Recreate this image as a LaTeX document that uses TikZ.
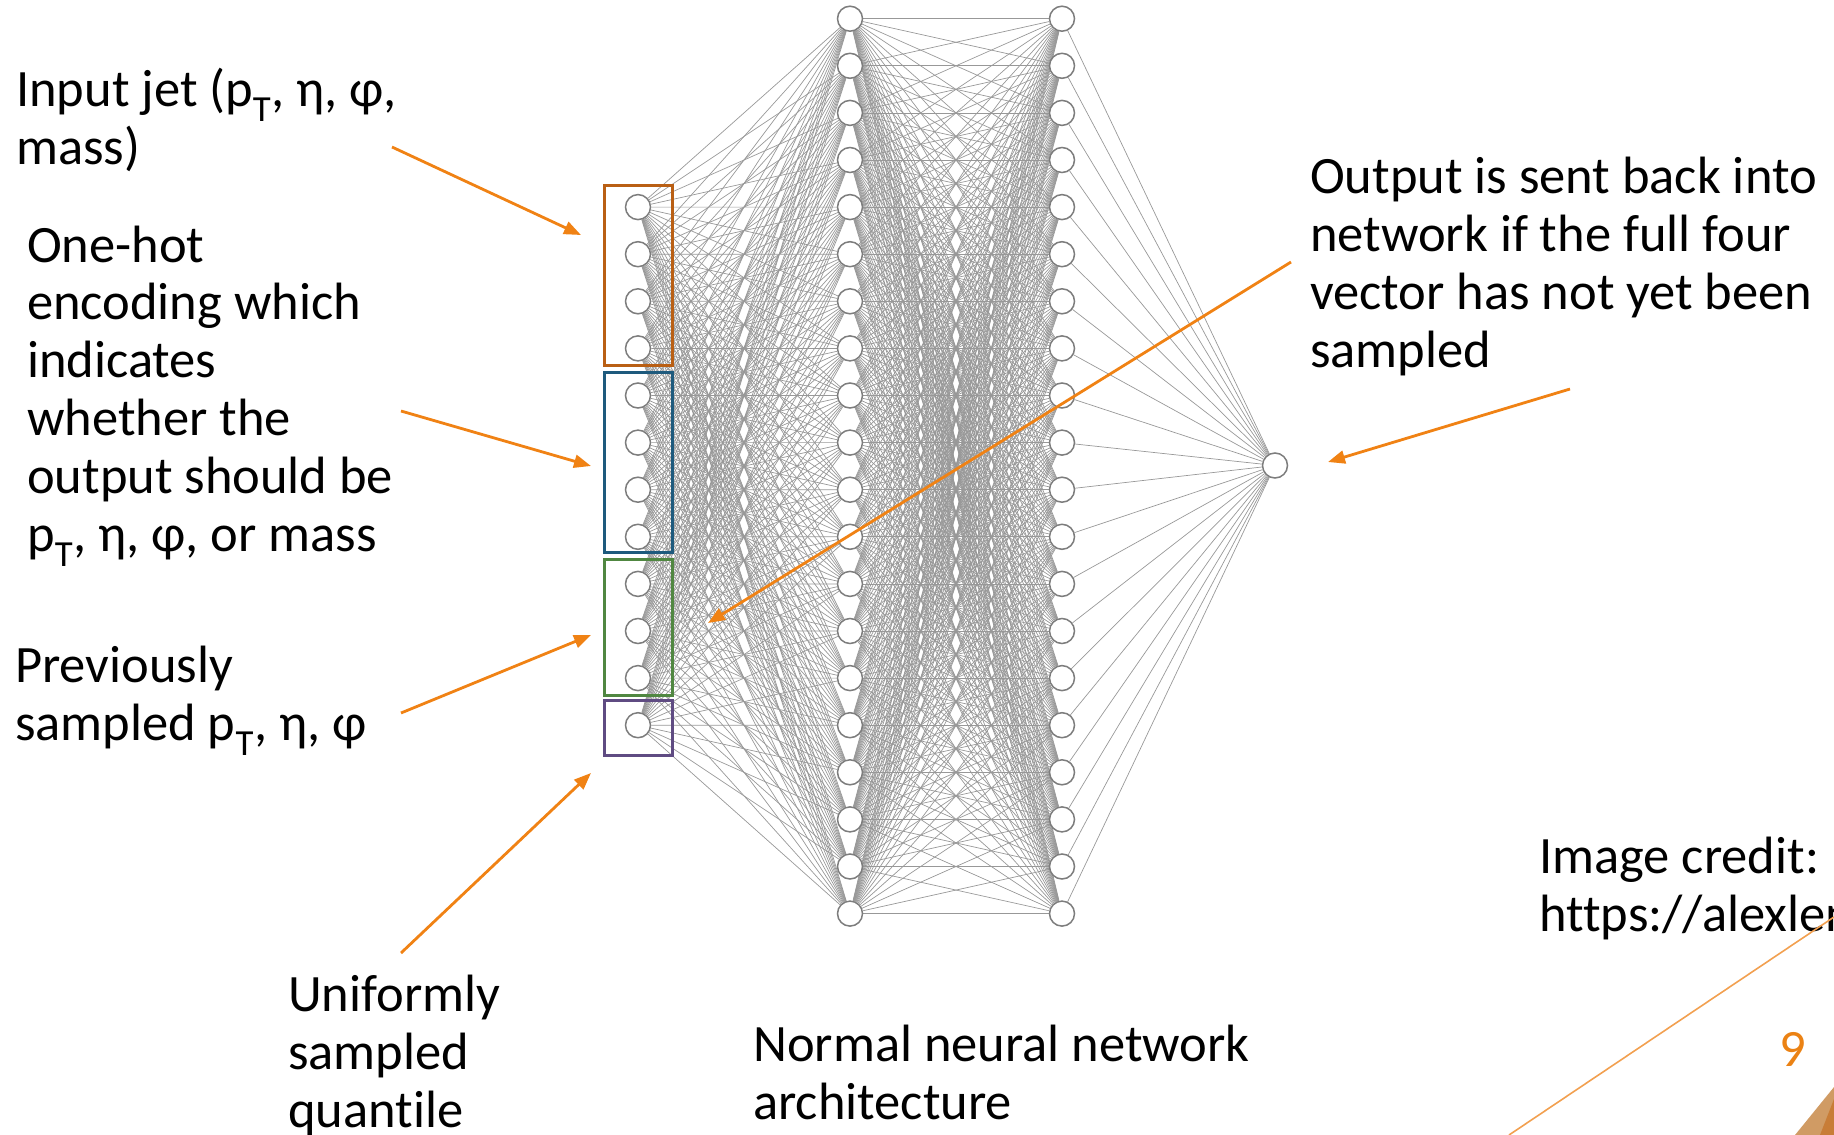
\documentclass[tikz,border=0pt]{standalone}
\usepackage{fontspec}
\setmainfont[Ligatures=NoCommon]{Carlito}
\usetikzlibrary{arrows.meta, positioning}
\pgfdeclarelayer{background}
\pgfsetlayers{background,main}
\definecolor{pointcol}{RGB}{240,130,20}
\definecolor{jetcol}{RGB}{185,95,20}
\definecolor{hotcol}{RGB}{30,90,125}
\definecolor{prevcol}{RGB}{80,135,65}
\definecolor{quantcol}{RGB}{95,75,130}
\definecolor{edgecol}{RGB}{152,152,152}
\definecolor{ringcol}{RGB}{125,125,125}
\definecolor{decocol}{RGB}{242,160,80}
\definecolor{tancol}{RGB}{208,155,100}
\definecolor{rustcol}{RGB}{200,125,55}
\definecolor{pagecol}{RGB}{235,130,20}
\tikzstyle{neuron} = [circle, draw=ringcol, line width=1.5pt, fill=white, minimum size=25pt, inner sep=0pt]
\tikzstyle{synapse} = [draw=edgecol, line width=0.7pt]
\tikzstyle{groupbox} = [draw, line width=3pt, minimum width=68pt, inner sep=0pt]
\tikzstyle{caption} = [anchor=base west, align=left, inner sep=0pt, font=\fontsize{52.5}{57.8}\selectfont]
\tikzstyle{pointer} = [pointcol, line width=2.8pt, -{Triangle[length=17pt,width=13pt]}]

\begin{document}
\begin{tikzpicture}[x=1pt, y=-1pt]
        \useasboundingbox (0,0) rectangle (1834,1135);
        \clip (0,0) rectangle (1834,1135);
        % layers
        \foreach \k in {1,...,20} {
            \node[neuron] (ha\k) at (850, {18.7+47.1*(\k-1)}) {};
            \node[neuron] (hb\k) at (1062, {18.7+47.1*(\k-1)}) {};
        }
        \foreach \k in {1,...,12}
            \node[neuron] (in\k) at (638, {207.1+47.1*(\k-1)}) {};
        \node[neuron] (out) at (1275,465.5) {};
        % connections
        \begin{pgfonlayer}{background}
            \foreach \i in {1,...,12}
                \foreach \j in {1,...,20}
                    \draw[synapse] (in\i) -- (ha\j);
            \foreach \i in {1,...,20}
                \foreach \j in {1,...,20}
                    \draw[synapse] (ha\i) -- (hb\j);
            \foreach \j in {1,...,20}
                \draw[synapse] (hb\j) -- (out);
        \end{pgfonlayer}
        % input groups
        \node[groupbox, draw=jetcol, minimum height=180pt] (jetbox) at (638,275) {};
        \node[groupbox, draw=hotcol, minimum height=180pt] (hotbox) at (638,462) {};
        \node[groupbox, draw=prevcol, minimum height=136pt] (prevbox) at (638,627) {};
        \node[groupbox, draw=quantcol, minimum height=55pt] (quantbox) at (638,728) {};
        % labels (placed by the baseline of their last line)
        \node[caption] (jetlabel) at (16,164) {Input jet (p\textsubscript{T}, η, φ,\\mass)};
        \node[caption] (hotlabel) at (27,551) {One-hot\\encoding which\\indicates\\whether the\\output should be\\p\textsubscript{T}, η, φ, or mass};
        \node[caption] (prevlabel) at (15,740) {Previously\\sampled p\textsubscript{T}, η, φ};
        \node[caption] (quantlabel) at (288,1127) {Uniformly\\sampled\\quantile};
        \node[caption] (netlabel) at (753,1119) {Normal neural network\\architecture};
        \node[caption] (feedlabel) at (1310,367) {Output is sent back into\\network if the full four\\vector has not yet been\\sampled};
        \node[caption] (creditlabel) at (1539,931) {Image credit:\\https://alexlenail.me/NN-SVG/};
        \node[caption, text=pagecol] (pagenum) at (1779,1066) {9};
        % pointers
        \coordinate (jettail) at (392,147);
        \coordinate (jettip) at (581,235);
        \coordinate (hottail) at (401,411);
        \coordinate (hottip) at (591,466);
        \coordinate (prevtail) at (401,713);
        \coordinate (prevtip) at (591,635);
        \coordinate (quanttail) at (401,953);
        \coordinate (quanttip) at (591,773);
        \coordinate (feedtail) at (1291,262);
        \coordinate (feedtip) at (708,623);
        \coordinate (outtail) at (1570,389);
        \coordinate (outtip) at (1328,462);
        \draw[pointer] (jettail) -- (jettip);
        \draw[pointer] (hottail) -- (hottip);
        \draw[pointer] (prevtail) -- (prevtip);
        \draw[pointer] (quanttail) -- (quanttip);
        \draw[pointer] (feedtail) -- (feedtip);
        \draw[pointer] (outtail) -- (outtip);
        % slide corner
        \draw[decocol, line width=1.6pt] (1509,1135) -- (1834,917);
        \fill[tancol] (1795,1135) -- (1834,1087) -- (1834,1135) -- cycle;
        \fill[rustcol] (1820,1135) -- (1834,1099) -- (1834,1135) -- cycle;
    \end{tikzpicture}
\end{document}
